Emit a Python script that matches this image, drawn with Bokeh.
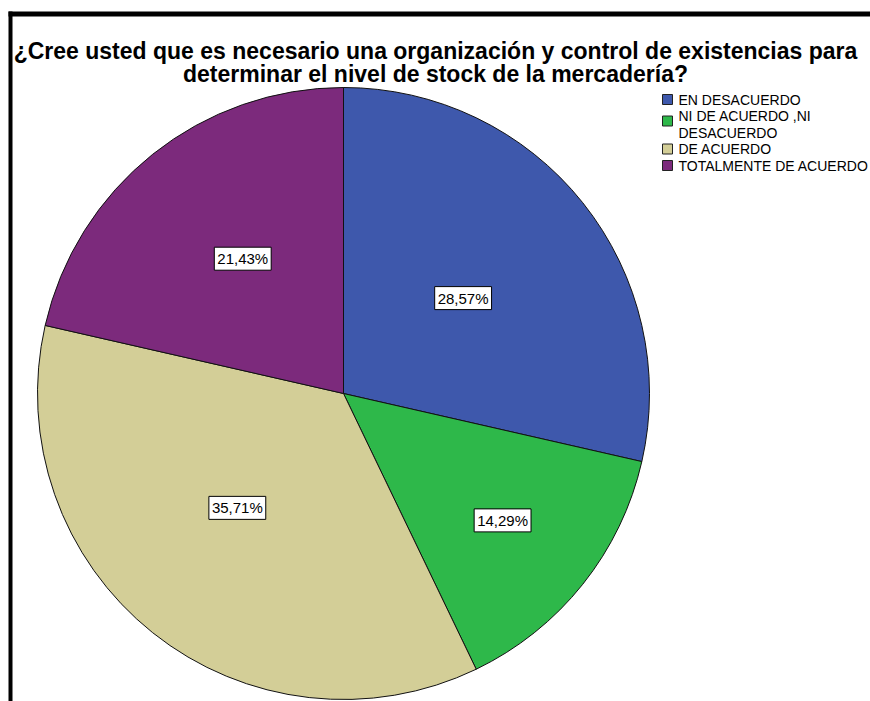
import math
from bokeh.plotting import figure
from bokeh.models import Range1d, ColumnDataSource
from bokeh.core.properties import value
from bokeh.embed import file_html
from bokeh.resources import INLINE

# ---- data ----
title_lines = ["¿Cree usted que es necesario una organización y control de existencias para",
               "determinar el nivel de stock de la mercadería?"]
categories = ["EN DESACUERDO", "NI DE ACUERDO ,NI\nDESACUERDO", "DE ACUERDO", "TOTALMENTE DE ACUERDO"]
percents = [28.57, 14.29, 35.71, 21.43]
colors = ["#3E58AC", "#2EB84A", "#D3CE97", "#7C2A7C"]

# ---- layout ----
W, H = 870, 701
def X(sx): return sx
def Y(sy): return H - sy

cx, cy, R = X(343), Y(393), 306
label_frac = [0.5, 0.665, 0.51, 0.55]
label_shift = [0.0, 0.0, 4.3, 1.8]

p = figure(width=W, height=H, output_backend="svg", toolbar_location=None,
           x_range=Range1d(0, W), y_range=Range1d(0, H), min_border=0,
           background_fill_color="white", border_fill_color="white")
p.outline_line_color = None
p.axis.visible = False
p.grid.visible = False

# wedges
total = sum(percents)
starts, ends, mids = [], [], []
acc = 0.0
for v in percents:
    a0 = math.pi / 2 - 2 * math.pi * acc / total
    acc += v
    a1 = math.pi / 2 - 2 * math.pi * acc / total
    starts.append(a0); ends.append(a1); mids.append((a0 + a1) / 2)

src = ColumnDataSource(dict(start=starts, end=ends, color=colors))
p.wedge(x=cx, y=cy, radius=R, start_angle="start", end_angle="end", direction="clock",
        fill_color="color", line_color="#111111", line_width=1, source=src)

# slice labels
lx, ly, lt = [], [], []
for m, f, s, v in zip(mids, label_frac, label_shift, percents):
    a = m - math.radians(s)
    lx.append(cx + f * R * math.cos(a))
    ly.append(cy + f * R * math.sin(a))
    lt.append(f"{v:.2f}".replace(".", ",") + "%")
p.text(x=lx, y=ly, text=lt, text_align="center", text_baseline="middle",
       text_font=value("Liberation Sans"), text_font_size="15px", text_color="black",
       background_fill_color="white", border_line_color="black", border_line_width=1,
       padding=3)

# title
for i, t in enumerate(title_lines):
    p.text(x=[X(435)], y=[Y(50 + 23 * i)], text=[t], text_align="center", text_baseline="middle",
           text_font=value("Liberation Sans"), text_font_size="23px", text_font_style="bold",
           text_color="black")

# legend
ly0 = 99
step = 16.5
for cat, col in zip(categories, colors):
    lines = cat.split("\n")
    sq_y = ly0 + (5 if len(lines) > 1 else 0)
    p.scatter(x=[X(667)], y=[Y(sq_y)], marker="square", size=10, fill_color=col,
              line_color="#222222", line_width=1)
    for j, ln in enumerate(lines):
        p.text(x=[X(678)], y=[Y(ly0 + j * step)], text=[ln], text_align="left",
               text_baseline="middle", text_font=value("Liberation Sans"),
               text_font_size="14px", text_color="black")
    ly0 += step * len(lines)

# frame lines (top and left)
p.segment(x0=[X(8)], y0=[Y(13.5)], x1=[X(870)], y1=[Y(13.5)], line_color="black", line_width=5)
p.segment(x0=[X(10)], y0=[Y(11)], x1=[X(10)], y1=[Y(701)], line_color="black", line_width=4)

open("out.html", "w").write(file_html(p, INLINE))
